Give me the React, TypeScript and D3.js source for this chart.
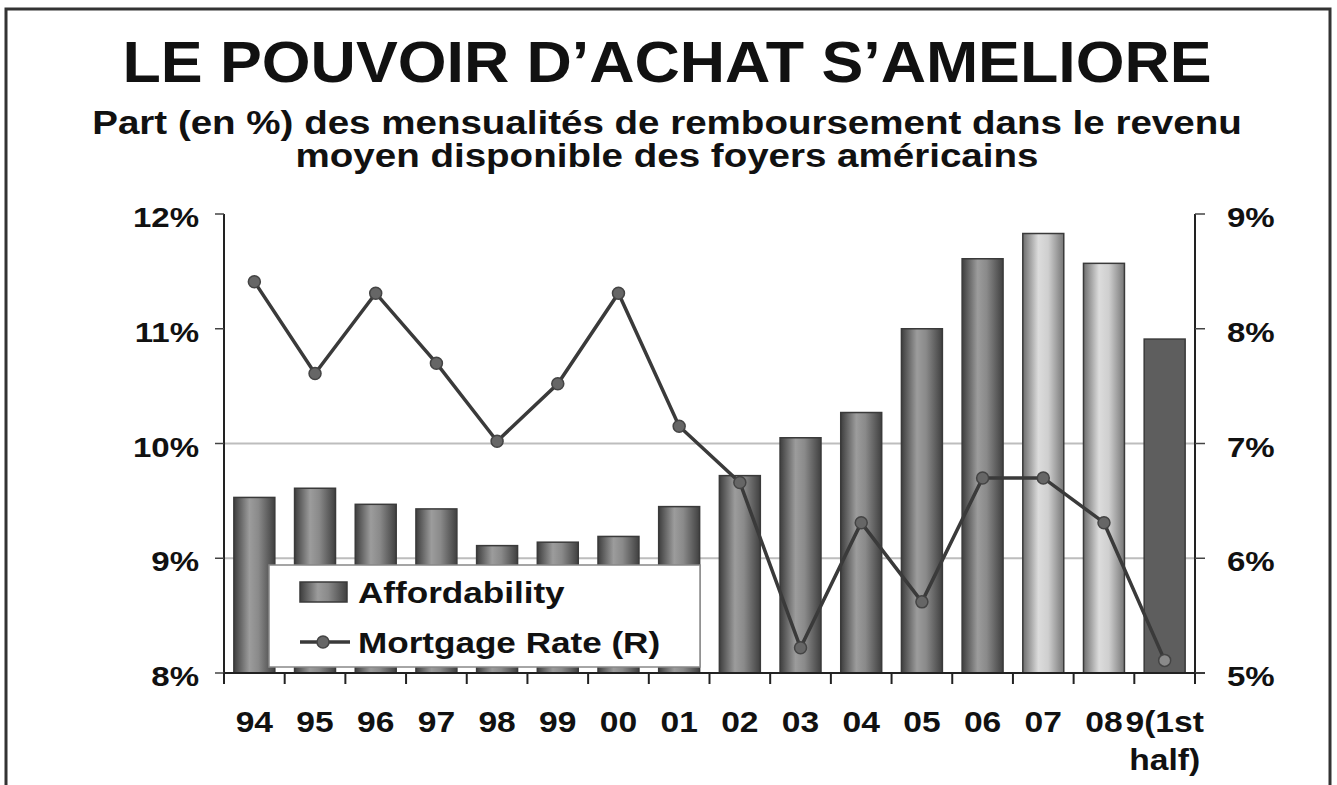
import React from 'react';
import * as d3 from 'd3';

const categories = ['94', '95', '96', '97', '98', '99', '00', '01', '02', '03', '04', '05', '06', '07', '08', '9(1st half)'];
const affordability = [9.53, 9.61, 9.47, 9.43, 9.11, 9.14, 9.19, 9.45, 9.72, 10.05, 10.27, 11.0, 11.61, 11.83, 11.57, 10.91];
const mortgageRate = [8.41, 7.61, 8.31, 7.7, 7.02, 7.52, 8.31, 7.15, 6.66, 5.22, 6.31, 5.62, 6.7, 6.7, 6.31, 5.11];
const leftTicks = [8, 9, 10, 11, 12];
const rightTicks = [5, 6, 7, 8, 9];
const gridTicks = [9, 10];

const title = 'LE POUVOIR D\u2019ACHAT S\u2019AMELIORE';
const subtitle = ['Part (en %) des mensualités de remboursement dans le revenu', 'moyen disponible des foyers américains'];
const seriesNames = ['Affordability', 'Mortgage Rate (R)'];

const W = 1337;
const H = 785;
const FONT = '"Liberation Sans", Arial, Helvetica, sans-serif';

// stretched bold text, the original looks horizontally widened
const SText = ({ x, y, size, sx = 1.1, anchor = 'middle', children }: any) => (
  <text
    transform={`translate(${x},${y}) scale(${sx},1)`}
    fontSize={size}
    fontWeight="bold"
    fontFamily={FONT}
    textAnchor={anchor}
    fill="#111"
  >
    {children}
  </text>
);

export default function App() {
  const left = 224;
  const right = 1195;
  const top = 214;
  const bottom = 673;

  const x = d3.scaleBand<string>()
    .domain(categories)
    .range([left, right])
    .paddingInner(0.325)
    .paddingOuter(0.1625);
  const step = x.step();
  const yL = d3.scaleLinear().domain([8, 12]).range([bottom, top]);
  const yR = d3.scaleLinear().domain([5, 9]).range([bottom, top]);

  const cx = (c: string) => (x(c) as number) + x.bandwidth() / 2;

  const line = d3.line<number>()
    .x((_, i) => cx(categories[i]))
    .y(d => yR(d));

  const fillFor = (c: string, i: number) => {
    if (i === categories.length - 1) return '#5e5e5e';
    if (c === '07' || c === '08') return 'url(#gLight)';
    return 'url(#gDark)';
  };

  return (
    <svg width={W} height={H} style={{ position: 'absolute', left: 0, top: 0, background: '#fff' }}>
      <defs>
        <linearGradient id="gDark" x1="0" x2="1" y1="0" y2="0">
          <stop offset="0" stopColor="#3e3e3e" />
          <stop offset="0.38" stopColor="#9c9c9c" />
          <stop offset="0.6" stopColor="#8a8a8a" />
          <stop offset="1" stopColor="#404040" />
        </linearGradient>
        <linearGradient id="gLight" x1="0" x2="1" y1="0" y2="0">
          <stop offset="0" stopColor="#6e6e6e" />
          <stop offset="0.38" stopColor="#dcdcdc" />
          <stop offset="0.62" stopColor="#cfcfcf" />
          <stop offset="1" stopColor="#777" />
        </linearGradient>
      </defs>

      <rect x={6} y={9} width={1324} height={800} fill="#fff" stroke="#333" strokeWidth={3} />

      <SText x={667} y={82} size={57} sx={1.1}>{title}</SText>
      <SText x={667} y={134} size={33.5} sx={1.15}>{subtitle[0]}</SText>
      <SText x={667} y={167} size={33.5} sx={1.15}>{subtitle[1]}</SText>

      {/* gridlines */}
      {gridTicks.map(t => (
        <line key={t} x1={left} x2={right} y1={yL(t)} y2={yL(t)} stroke="#bdbdbd" strokeWidth={2} />
      ))}

      {/* bars */}
      {categories.map((c, i) => (
        <rect
          key={c}
          x={x(c)}
          y={yL(affordability[i])}
          width={x.bandwidth()}
          height={bottom - yL(affordability[i])}
          fill={fillFor(c, i)}
          stroke="#3a3a3a"
          strokeWidth={1.5}
        />
      ))}

      {/* mortgage rate line */}
      <path d={line(mortgageRate) || ''} fill="none" stroke="#3a3a3a" strokeWidth={3.5} />
      {mortgageRate.map((v, i) => (
        <circle
          key={i}
          cx={cx(categories[i])}
          cy={yR(v)}
          r={6}
          fill={i === mortgageRate.length - 1 ? '#8a8a8a' : '#666'}
          stroke="#444"
          strokeWidth={1.5}
        />
      ))}

      {/* axes */}
      <line x1={left} x2={left} y1={top} y2={bottom} stroke="#222" strokeWidth={2} />
      <line x1={right} x2={right} y1={top} y2={bottom} stroke="#222" strokeWidth={2} />
      <line x1={left} x2={right + 10} y1={bottom} y2={bottom} stroke="#222" strokeWidth={2} />
      {leftTicks.map(t => (
        <g key={'l' + t}>
          <line x1={left - 9} x2={left} y1={yL(t)} y2={yL(t)} stroke="#444" strokeWidth={1.5} />
          <SText x={199} y={yL(t) + 13} size={28} sx={1.18} anchor="end">{t}%</SText>
        </g>
      ))}
      {rightTicks.map(t => (
        <g key={'r' + t}>
          <line x1={right} x2={right + 10} y1={yR(t)} y2={yR(t)} stroke="#444" strokeWidth={1.5} />
          <SText x={1227} y={yR(t) + 13} size={28} sx={1.18} anchor="start">{t}%</SText>
        </g>
      ))}
      {d3.range(categories.length + 1).map(i => (
        <line key={'xt' + i} x1={left + i * step} x2={left + i * step} y1={bottom} y2={bottom + 11} stroke="#222" strokeWidth={2} />
      ))}
      {categories.map(c => (
        <text
          key={'xl' + c}
          transform={`translate(${cx(c)},732) scale(1.12,1)`}
          fontSize={30}
          fontWeight="bold"
          fontFamily={FONT}
          textAnchor="middle"
          fill="#111"
        >
          {c.split(' ').map((part, j) => (
            <tspan key={j} x={0} dy={j === 0 ? 0 : 38}>{part}</tspan>
          ))}
        </text>
      ))}

      {/* legend */}
      <rect x={269} y={565} width={431} height={102} fill="#fff" stroke="#888" strokeWidth={1.5} />
      <rect x={300} y={582} width={47} height={20} fill="url(#gDark)" stroke="#3a3a3a" strokeWidth={1.5} />
      <SText x={358} y={603} size={29.5} sx={1.19} anchor="start">{seriesNames[0]}</SText>
      <line x1={300} x2={350} y1={642} y2={642} stroke="#3a3a3a" strokeWidth={3.5} />
      <circle cx={323} cy={642} r={6} fill="#666" stroke="#444" strokeWidth={1.5} />
      <SText x={358} y={653} size={29.5} sx={1.19} anchor="start">{seriesNames[1]}</SText>
    </svg>
  );
}
